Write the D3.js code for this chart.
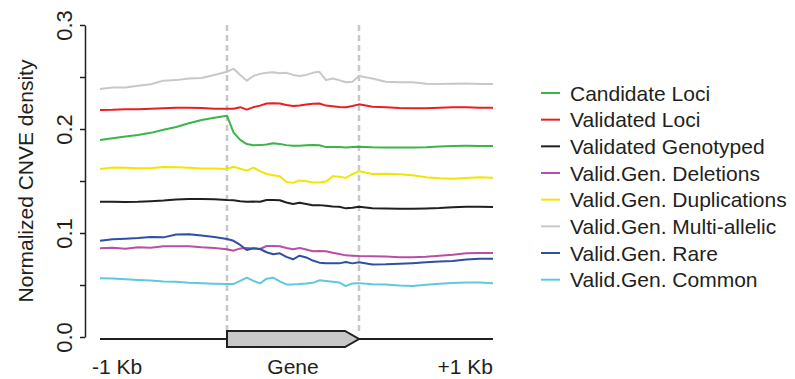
<!DOCTYPE html>
<html>
<head>
<meta charset="utf-8">
<script src="https://cdn.jsdelivr.net/npm/d3@7"></script>
<style>
  body { margin: 0; background: #fff; }
  svg text { font-family: "Liberation Sans", Arial, Helvetica, sans-serif; fill: #231f20; }
</style>
</head>
<body>
<svg id="chart" width="795" height="379"></svg>
<script>
// relative position: -1..0 upstream, 0..1 gene body, 1..2 downstream
const positions = [
  -1, -0.9, -0.8, -0.7, -0.6, -0.5, -0.4, -0.3, -0.2, -0.1, 0,
  0.05, 0.1, 0.15, 0.2, 0.25, 0.3, 0.35, 0.4, 0.45, 0.5,
  0.55, 0.6, 0.65, 0.7, 0.75, 0.8, 0.85, 0.9, 0.95, 1,
  1.1, 1.2, 1.3, 1.4, 1.5, 1.6, 1.7, 1.8, 1.9, 2
];

const candidateLoci = [
  .1894, .191, .1927, .1942, .1963, .1992, .2019, .2055, .2087, .2108, .2128,
  .1965, .1895, .1855, .1843, .1845, .1852, .1862, .1855, .1845, .1838,
  .184, .1843, .1845, .1843, .1826, .1826, .1826, .1823, .1828, .183,
  .1824, .1823, .1821, .1821, .1825, .1832, .1837, .1838, .1837, .1837
];
const validatedLoci = [
  .2183, .2185, .219, .219, .2195, .22, .2205, .2205, .2203, .2195, .2195,
  .2195, .221, .2186, .221, .2225, .2245, .2247, .2245, .223, .2222,
  .2225, .2235, .2243, .2245, .2225, .2218, .2212, .221, .2222, .2237,
  .2215, .221, .2203, .2199, .22, .2205, .2208, .2208, .2205, .2205
];
const validatedGenotyped = [
  .1301, .13, .1299, .13, .1305, .1312, .1322, .1327, .1327, .1325, .1317,
  .1315, .1305, .1301, .1302, .13, .1318, .1318, .1315, .1293, .1279,
  .129, .1278, .1266, .1268, .1262, .1255, .1253, .1237, .1242, .1253,
  .1238, .1236, .1234, .1234, .1236, .124, .1247, .1253, .1252, .125
];
const deletions = [
  .0853, .0858, .0849, .0862, .0858, .0872, .0873, .0872, .0862, .0856, .0843,
  .083, .0852, .0855, .0852, .0846, .0875, .0875, .0873, .0855, .0843,
  .0856, .0842, .0825, .0826, .0824, .081, .0798, .0785, .0782, .0779,
  .0776, .0773, .0767, .0767, .0772, .0782, .0792, .0805, .0808, .0808
];
const duplications = [
  .1615, .163, .1627, .1623, .1622, .1635, .1632, .1628, .162, .162, .1615,
  .1637, .1618, .16, .1628, .1595, .1567, .1556, .1545, .149, .1482,
  .1505, .1498, .1485, .1486, .1495, .1545, .154, .153, .1565, .1595,
  .1567, .157, .1565, .1555, .1537, .1527, .1522, .153, .1536, .1532
];
const multiAllelic = [
  .2385, .24, .24, .2415, .243, .2465, .247, .2485, .249, .252, .255,
  .258, .252, .2465, .251, .253, .254, .2545, .2535, .254, .252,
  .251, .252, .254, .255, .247, .2485, .247, .245, .2455, .251,
  .2485, .2455, .245, .245, .2435, .2433, .2435, .2438, .2433, .2433
];
const rare = [
  .0926, .0939, .0945, .0952, .0962, .0958, .0985, .0987, .0975, .0962, .0942,
  .0925, .0885, .0837, .0853, .0846, .0815, .0795, .0805, .077, .0747,
  .0782, .0765, .0735, .0715, .0708, .0708, .0708, .0721, .0708, .0718,
  .0697, .0699, .0704, .071, .0718, .0726, .0731, .0745, .0753, .0753
];
const common = [
  .0564, .0563, .0555, .0548, .0543, .0534, .0531, .0522, .0517, .0513, .051,
  .051, .054, .057, .054, .0515, .0561, .057, .0535, .0506, .0506,
  .0509, .0514, .0521, .0545, .0538, .0532, .0525, .049, .0515, .0518,
  .0507, .0505, .0495, .049, .0503, .0513, .052, .0525, .0525, .0516
];

const seriesNames = [
  "Candidate Loci", "Validated Loci", "Validated Genotyped",
  "Valid.Gen. Deletions", "Valid.Gen. Duplications", "Valid.Gen. Multi-allelic",
  "Valid.Gen. Rare", "Valid.Gen. Common"
];
const seriesValues = [
  candidateLoci, validatedLoci, validatedGenotyped, deletions,
  duplications, multiAllelic, rare, common
];
const seriesColors = [
  "#3cb44a", "#ed1c24", "#231f20", "#b84fa4",
  "#f2e600", "#c8c8c8", "#2e4fa3", "#5ec8dc"
];

const yTicks = [0, 0.05, 0.1, 0.15, 0.2, 0.25, 0.3];
const yLabelled = [0, 0.1, 0.2, 0.3];
const xLabels = [{pos: -1, text: "-1 Kb"}, {pos: 0.5, text: "Gene"}, {pos: 2, text: "+1 Kb"}];

const svg = d3.select("#chart");

// piecewise x: upstream / gene / downstream
const x = d3.scaleLinear().domain([-1, 0, 1, 2]).range([100, 227, 359, 493]);
const y = d3.scaleLinear().domain([0, 0.3]).range([337, 25]);

// y axis
const yAxis = svg.append("g")
    .attr("transform", "translate(85,0)")
    .call(d3.axisLeft(y).tickValues(yTicks).tickSize(5).tickSizeOuter(0)
      .tickFormat(d => yLabelled.some(v => Math.abs(v - d) < 1e-9) ? d3.format(".1f")(d) : ""));
yAxis.select(".domain").attr("stroke", "#231f20").attr("stroke-width", 1.5);
yAxis.selectAll(".tick line").attr("stroke", "#231f20").attr("stroke-width", 1.5);
yAxis.selectAll(".tick text")
    .attr("transform", "rotate(-90)")
    .attr("x", 0)
    .attr("y", -13)
    .attr("dy", 0)
    .attr("text-anchor", "middle")
    .style("font-size", "22px")
    .style("font-family", "'Liberation Sans', Arial, sans-serif")
    .attr("fill", "#231f20");

// y axis title
svg.append("text")
    .attr("transform", "translate(33,181) rotate(-90)")
    .attr("text-anchor", "middle")
    .style("font-size", "21px")
    .text("Normalized CNVE density");

// gene boundary guides
[0, 1].forEach(p => {
  svg.append("line")
      .attr("x1", x(p)).attr("x2", x(p))
      .attr("y1", y(0.3)).attr("y2", 333)
      .attr("stroke", "#c8c8c8")
      .attr("stroke-width", 2.5)
      .attr("stroke-dasharray", "6,4");
});

// density lines
const line = d3.line()
    .x((d, i) => x(positions[i]))
    .y(d => y(d));

seriesValues.forEach((vals, k) => {
  svg.append("path")
      .datum(vals)
      .attr("fill", "none")
      .attr("stroke", seriesColors[k])
      .attr("stroke-width", 2)
      .attr("stroke-linejoin", "round")
      .attr("d", line);
});

// gene track
const trackY = 339;
svg.append("line")
    .attr("x1", x(-1)).attr("x2", x(0))
    .attr("y1", trackY).attr("y2", trackY)
    .attr("stroke", "#231f20").attr("stroke-width", 2);
svg.append("line")
    .attr("x1", x(1)).attr("x2", x(2))
    .attr("y1", trackY).attr("y2", trackY)
    .attr("stroke", "#231f20").attr("stroke-width", 2);
svg.append("path")
    .attr("d", `M${x(0)},${trackY - 8} L${x(1) - 14},${trackY - 8} L${x(1)},${trackY} L${x(1) - 14},${trackY + 8} L${x(0)},${trackY + 8} Z`)
    .attr("fill", "#c8c8c8")
    .attr("stroke", "#231f20")
    .attr("stroke-width", 2)
    .attr("stroke-linejoin", "miter");

// x labels
svg.selectAll(".xlab")
  .data(xLabels)
  .enter().append("text")
    .attr("class", "xlab")
    .attr("x", d => d.pos === -1 ? x(d.pos) - 8 : x(d.pos))
    .attr("y", 374)
    .attr("text-anchor", d => d.pos === -1 ? "start" : d.pos === 2 ? "end" : "middle")
    .style("font-size", "21px")
    .text(d => d.text);

// legend
const legend = svg.append("g").attr("transform", "translate(541,93)");
seriesNames.forEach((name, k) => {
  const row = legend.append("g").attr("transform", `translate(0,${k * 26.67})`);
  row.append("line")
      .attr("x1", 0).attr("x2", 19)
      .attr("y1", 0).attr("y2", 0)
      .attr("stroke", seriesColors[k])
      .attr("stroke-width", 2);
  row.append("text")
      .attr("x", 29)
      .attr("y", 0)
      .attr("dy", "0.36em")
      .style("font-size", "21px")
      .text(name);
});
</script>
</body>
</html>
